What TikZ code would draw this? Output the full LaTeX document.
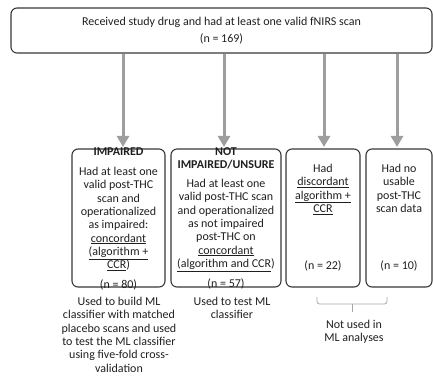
\documentclass[tikz,border=0pt]{standalone}
\usepackage{fontspec}
\setmainfont{Carlito}
\usetikzlibrary{arrows.meta}
\begin{document}
\begin{tikzpicture}[x=1pt,y=-1pt,
  box/.style={draw=black!78,line width=1.1pt,rounded corners=6pt,inner sep=0pt},
  arr/.style={draw=black!38,line width=3pt,shorten >=1.5pt,-{Triangle[width=12pt,length=11pt]}},
  txt/.style={inner sep=0pt,anchor=north,align=center,font=\fontsize{12}{13.3}\selectfont,text=black!88},
  hd/.style={txt,font=\fontsize{12}{13.3}\selectfont\bfseries},
  brace/.style={draw=black!35,line width=0.8pt,rounded corners=2.5pt}]
\useasboundingbox (0,0) rectangle (433,376);
% boxes
\node[box,minimum width=421pt,minimum height=45pt] (top) at (221.5,30.5) {};
\node[box,minimum width=93pt,minimum height=138pt] (b1) at (118.5,218) {};
\node[box,minimum width=110pt,minimum height=138pt] (b2) at (226,218) {};
\node[box,minimum width=74pt,minimum height=138pt] (b3) at (323,218) {};
\node[box,minimum width=66pt,minimum height=138pt] (b4) at (399,218) {};
% top text
\node[txt] (toptxt) at (221.5,17) {Received study drug and had at least one valid fNIRS scan\\[3.7pt](n = 169)};
% arrows
\coordinate (a1) at (123,0);
\coordinate (a2) at (224,0);
\coordinate (a3) at (324,0);
\coordinate (a4) at (397,0);
\draw[arr] (top.south -| a1) -- (b1.north -| a1);
\draw[arr] (top.south -| a2) -- (b2.north -| a2);
\draw[arr] (top.south -| a3) -- (b3.north -| a3);
\draw[arr] (top.south -| a4) -- (b4.north -| a4);
% box 1
\node[hd] (h1) at (118.5,148) {IMPAIRED};
\node[txt] (t1) at (118.5,167) {Had at least one\\valid post-THC\\scan and\\operationalized\\as impaired:\\\underline{concordant}\\\underline{(algorithm +}\\\underline{CCR})};
\node[txt] (n1) at (118.5,279.5) {(n = 80)};
% box 2
\node[hd] (h2) at (226,147) {NOT\\IMPAIRED/UNSURE};
\node[txt] (t2) at (226,179) {Had at least one\\valid post-THC scan\\and operationalized\\as not impaired\\post-THC on\\\underline{concordant}\\\underline{(algorithm and CCR})};
\node[txt] (n2) at (226,279) {(n = 57)};
% box 3
\node[txt] (t3) at (323,164) {Had\\\underline{discordant}\\\underline{algorithm +}\\\underline{CCR}};
\node[txt] (n3) at (323,261) {(n = 22)};
% box 4
\node[txt] (t4) at (399,164) {Had no\\usable\\post-THC\\scan data};
\node[txt] (n4) at (399,261) {(n = 10)};
% notes
\node[txt] (u1) at (119,297) {Used to build ML\\classifier with matched\\placebo scans and used\\to test the ML classifier\\using five-fold cross-\\validation};
\node[txt] (u2) at (232,297) {Used to test ML\\classifier};
\coordinate (brL) at (317,297);
\coordinate (brR) at (387,297);
\coordinate (brM) at (352,304);
\coordinate (brS) at (352,312);
\draw[brace] (brL) |- (brM) -| (brR);
\draw[brace] (brM) -- (brS);
\node[txt] (u3) at (354,320) {Not used in\\ML analyses};
\end{tikzpicture}
\end{document}
